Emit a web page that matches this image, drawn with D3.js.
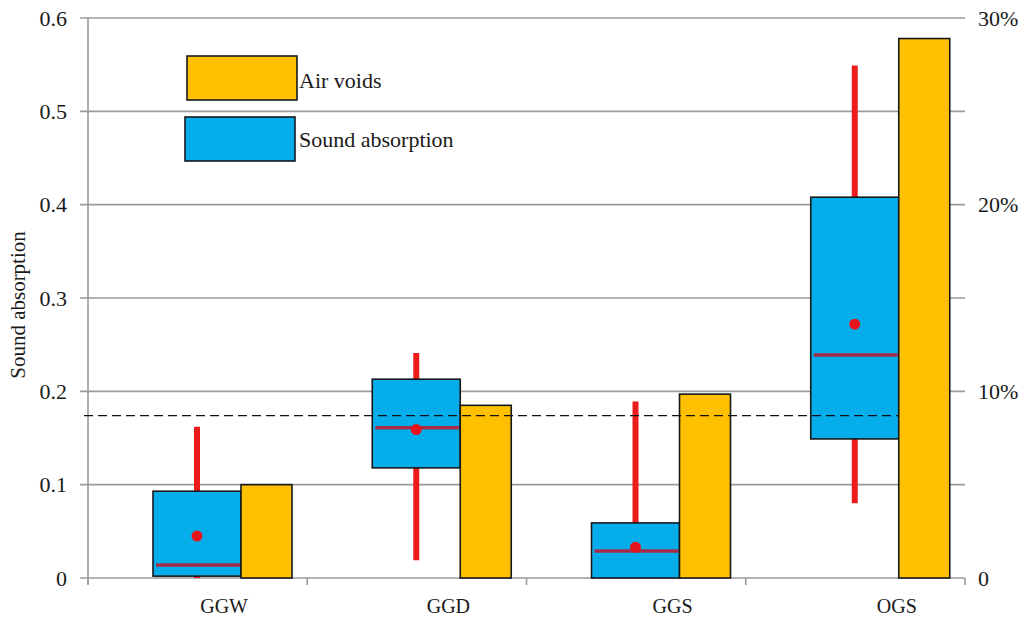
<!DOCTYPE html>
<html>
<head>
<meta charset="utf-8">
<script src="https://cdn.jsdelivr.net/npm/d3@7"></script>
<style>
  body { margin: 0; background: #fff; }
</style>
</head>
<body>
<div id="chart"></div>
<script>
// data
var categories = ["GGW", "GGD", "GGS", "OGS"];
var whiskerLow  = [0.000, 0.019, 0.000, 0.080];
var boxLow      = [0.002, 0.118, 0.000, 0.149];
var boxHigh     = [0.093, 0.213, 0.059, 0.408];
var whiskerHigh = [0.162, 0.241, 0.189, 0.549];
var medians     = [0.014, 0.161, 0.029, 0.239];
var means       = [0.045, 0.159, 0.033, 0.272];
var airVoids    = [5.0, 9.25, 9.85, 28.9];   // percent, right axis
var threshold   = 0.174;
var leftTicks   = [0, 0.1, 0.2, 0.3, 0.4, 0.5, 0.6];
var rightTicks  = [0, 10, 20, 30];
var legendItems = ["Air voids", "Sound absorption"];

var FONT = "Liberation Serif";

var width = 1027, height = 617,
    margin = {top: 18, right: 62, bottom: 39, left: 88},
    x0 = margin.left, x1 = width - margin.right,
    y0 = height - margin.bottom, y1 = margin.top;

var svg = d3.select("#chart").append("svg")
  .attr("width", width)
  .attr("height", height);

var x = d3.scaleBand().domain(categories).range([x0, x1]).padding(0);
// category labels sit a bit right of band centres in the original
var xLabel = d3.scaleBand().domain(categories).range([x0 + 24, x1 + 44]).padding(0);
var y = d3.scaleLinear().domain([0, 0.6]).range([y0, y1]);
var yRight = d3.scaleLinear().domain([0, 30]).range([y0, y1]);

var blueOff = 65, blueW = 88, orangeW = 51;

// gridlines + left ticks
svg.append("g").selectAll("line")
  .data(leftTicks)
  .enter().append("line")
  .attr("x1", x0 - 8).attr("x2", x1)
  .attr("y1", function(d) { return y(d); })
  .attr("y2", function(d) { return y(d); })
  .style("stroke", "#9a9a9a")
  .style("stroke-width", 1.6);

// left axis line
svg.append("line")
  .attr("x1", x0).attr("x2", x0).attr("y1", y1).attr("y2", y0 + 6)
  .style("stroke", "#9a9a9a").style("stroke-width", 1.6);

// bottom category ticks
svg.append("g").selectAll("line")
  .data(categories.concat(["end"]))
  .enter().append("line")
  .attr("x1", function(d, i) { return i < categories.length ? x(d) : x1; })
  .attr("x2", function(d, i) { return i < categories.length ? x(d) : x1; })
  .attr("y1", y0).attr("y2", y0 + 7)
  .style("stroke", "#9a9a9a").style("stroke-width", 1.6);

// left tick labels
svg.append("g").selectAll("text")
  .data(leftTicks)
  .enter().append("text")
  .attr("x", 67)
  .attr("y", function(d) { return y(d); })
  .attr("dy", "0.35em")
  .attr("text-anchor", "end")
  .attr("font-family", FONT)
  .attr("font-size", 22)
  .attr("fill", "#1a1a1a")
  .text(function(d) { return d === 0 ? "0" : d3.format(".1f")(d); });

// right tick labels
svg.append("g").selectAll("text")
  .data(rightTicks)
  .enter().append("text")
  .attr("x", 978)
  .attr("y", function(d) { return yRight(d); })
  .attr("dy", "0.35em")
  .attr("font-family", FONT)
  .attr("font-size", 22)
  .attr("fill", "#1a1a1a")
  .text(function(d) { return d === 0 ? "0" : d + "%"; });

// y title
svg.append("text")
  .attr("transform", "translate(25," + 305 + ") rotate(-90)")
  .attr("text-anchor", "middle")
  .attr("font-family", FONT)
  .attr("font-size", 21)
  .attr("fill", "#1a1a1a")
  .text("Sound absorption");

// category labels
svg.append("g").selectAll("text")
  .data(categories)
  .enter().append("text")
  .attr("x", function(d) { return xLabel(d) + xLabel.bandwidth() / 2; })
  .attr("y", 613)
  .attr("text-anchor", "middle")
  .attr("font-family", FONT)
  .attr("font-size", 20)
  .attr("fill", "#1a1a1a")
  .text(function(d) { return d; });

var g = svg.append("g");

// whiskers
g.selectAll(".whisker")
  .data(categories)
  .enter().append("line")
  .attr("class", "whisker")
  .attr("x1", function(d) { return x(d) + blueOff + blueW / 2; })
  .attr("x2", function(d) { return x(d) + blueOff + blueW / 2; })
  .attr("y1", function(d, i) { return y(whiskerLow[i]); })
  .attr("y2", function(d, i) { return y(whiskerHigh[i]); })
  .style("stroke", "#ec1c1c")
  .style("stroke-width", 6);

// boxes
g.selectAll(".box")
  .data(categories)
  .enter().append("rect")
  .attr("class", "box")
  .attr("x", function(d) { return x(d) + blueOff; })
  .attr("width", blueW)
  .attr("y", function(d, i) { return y(boxHigh[i]); })
  .attr("height", function(d, i) { return y(boxLow[i]) - y(boxHigh[i]); })
  .style("fill", "#05aeea")
  .style("stroke", "#16181c")
  .style("stroke-width", 1.6);

// medians
g.selectAll(".median")
  .data(categories)
  .enter().append("line")
  .attr("class", "median")
  .attr("x1", function(d) { return x(d) + blueOff + 3; })
  .attr("x2", function(d) { return x(d) + blueOff + blueW - 1; })
  .attr("y1", function(d, i) { return y(medians[i]); })
  .attr("y2", function(d, i) { return y(medians[i]); })
  .style("stroke", "#a82c48")
  .style("stroke-width", 3.5);

// means
g.selectAll(".mean")
  .data(categories)
  .enter().append("circle")
  .attr("class", "mean")
  .attr("cx", function(d) { return x(d) + blueOff + blueW / 2; })
  .attr("cy", function(d, i) { return y(means[i]); })
  .attr("r", 5.5)
  .style("fill", "#e8141c");

// air voids bars
g.selectAll(".voids")
  .data(categories)
  .enter().append("rect")
  .attr("class", "voids")
  .attr("x", function(d) { return x(d) + blueOff + blueW; })
  .attr("width", orangeW)
  .attr("y", function(d, i) { return yRight(airVoids[i]); })
  .attr("height", function(d, i) { return y0 - yRight(airVoids[i]); })
  .style("fill", "#ffc000")
  .style("stroke", "#16181c")
  .style("stroke-width", 1.6);

// dashed reference line, stops at the last orange bar
var last = categories[categories.length - 1];
svg.append("line")
  .attr("x1", x0 - 4).attr("x2", x(last) + blueOff + blueW)
  .attr("y1", y(threshold)).attr("y2", y(threshold))
  .style("stroke", "#111")
  .style("stroke-width", 1.4)
  .style("stroke-dasharray", "9,5");

// legend
var legendColors = ["#ffc000", "#05aeea"];
var legend = svg.append("g");
legend.selectAll("rect")
  .data(legendItems)
  .enter().append("rect")
  .attr("x", function(d, i) { return 187 - i * 2; })
  .attr("y", function(d, i) { return 56 + i * 61; })
  .attr("width", 110)
  .attr("height", 44)
  .style("fill", function(d, i) { return legendColors[i]; })
  .style("stroke", "#16181c")
  .style("stroke-width", 1.6);
legend.selectAll("text")
  .data(legendItems)
  .enter().append("text")
  .attr("x", 299)
  .attr("y", function(d, i) { return 80 + i * 59; })
  .attr("dy", "0.35em")
  .attr("font-family", FONT)
  .attr("font-size", 22)
  .attr("fill", "#1a1a1a")
  .text(function(d) { return d; });
</script>
</body>
</html>
